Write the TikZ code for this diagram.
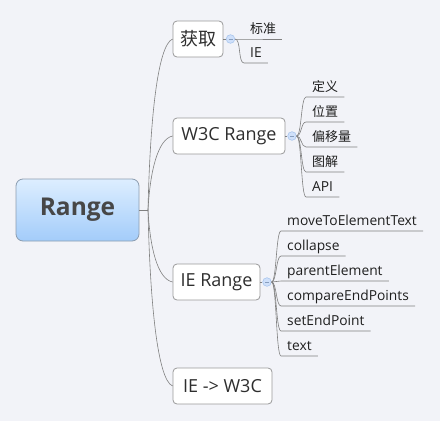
\documentclass[tikz,border=0pt]{standalone}
\usepackage{fontspec}
\setmainfont{Open Sans}
\newfontfamily\cjk{Noto Sans CJK SC}
\newcommand{\cjkleaf}{\cjk\fontsize{13}{15}\selectfont}
\definecolor{bg}{HTML}{F2F3F8}
\definecolor{rootTop}{HTML}{DDEEFF}
\definecolor{rootBot}{HTML}{A3CCFA}
\definecolor{rootLine}{HTML}{8C9DB0}
\definecolor{btnFill}{HTML}{CFE0FA}
\definecolor{btnLine}{HTML}{A9C6EE}
\definecolor{lineGray}{HTML}{808080}
\begin{document}
\begin{tikzpicture}[x=1pt,y=-1pt,
  root/.style={draw=rootLine, top color=rootTop, bottom color=rootBot, rounded corners=7pt,
    line width=0.8pt, minimum width=123pt, minimum height=62pt, inner sep=0pt,
    font=\fontsize{24.5}{28}\selectfont\bfseries, text=black!72},
  topic/.style={draw=black!40, fill=white, rounded corners=4pt, line width=0.8pt,
    minimum height=36pt, inner sep=0pt, font=\fontsize{18}{22}\selectfont, text=black!82},
  leaf/.style={anchor=south west, inner xsep=6pt, inner ysep=5pt, text depth=0pt,
    text height=10pt, font=\fontsize{13.8}{15}\selectfont, text=black!88},
  conn/.style={draw=lineGray, line width=0.6pt},
  btn/.style={circle, draw=btnLine, fill=btnFill, line width=0.6pt, minimum size=8.6pt, inner sep=0pt},
  minus/.style={draw=btnLine!80!black, line width=0.5pt}
]
\fill[bg] (0,0) rectangle (440,421);
\useasboundingbox (0,0) rectangle (440,421);

% root and topics
\node[root] (root) at (77.5,210) {Range};
\coordinate (br) at (148,210);
\node[topic, minimum width=50pt] (t1) at (198,39) {\cjk 获取};
\node[topic, minimum width=112pt] (t2) at (229,136) {W3C Range};
\node[topic, minimum width=87pt] (t3) at (216.5,282) {IE Range};
\node[topic, minimum width=99pt] (t4) at (222.5,386) {IE -> W3C};

\draw[conn] (root.east) -- (br);
\draw[conn] (br) .. controls +(2,-90) and +(-15,6) .. (t1.west);
\draw[conn] (br) .. controls +(2,-38) and +(-15,3) .. (t2.west);
\draw[conn] (br) .. controls +(2,38) and +(-15,-3) .. (t3.west);
\draw[conn] (br) .. controls +(2,93) and +(-15,-6) .. (t4.west);

% buttons
\node[btn] (b1) at (230.5,39) {};
\node[btn] (b2) at (292,136) {};
\node[btn] (b3) at (267,282) {};
\draw[conn] (t1.east) -- (b1.west);
\draw[conn] (t2.east) -- (b2.west);
\draw[conn] (t3.east) -- (b3.west);
\foreach \b in {b1,b2,b3} {\draw[minus] ([xshift=-2pt]\b.center) -- ([xshift=2pt]\b.center);}

% leaves of t1
\node[leaf] (l11) at (244,39) {\cjkleaf 标准};
\node[leaf] (l12) at (244,63) {IE};
\draw[conn] (b1.east) -- (l11.south west) -- (l11.south east);
\draw[conn] (b1.east) .. controls +(6,0) and +(-6,0) .. (l12.south west) -- (l12.south east);

% leaves of t2
\node[leaf] (l21) at (306,97) {\cjkleaf 定义};
\node[leaf] (l22) at (306,122) {\cjkleaf 位置};
\node[leaf] (l23) at (306,147) {\cjkleaf 偏移量};
\node[leaf] (l24) at (306,172) {\cjkleaf 图解};
\node[leaf] (l25) at (306,197) {API};
\foreach \l in {l21,l22,l23,l24,l25} {
  \draw[conn] (b2.east) .. controls +(5,0) and +(-5,0) .. (\l.south west) -- (\l.south east);
}

% leaves of t3
\node[leaf] (l31) at (281,231) {moveToElementText};
\node[leaf] (l32) at (281,256) {collapse};
\node[leaf] (l33) at (281,281) {parentElement};
\node[leaf] (l34) at (281,306) {compareEndPoints};
\node[leaf] (l35) at (281,331) {setEndPoint};
\node[leaf] (l36) at (281,356) {text};
\foreach \l in {l31,l32,l33,l34,l35,l36} {
  \draw[conn] (b3.east) .. controls +(5,0) and +(-5,0) .. (\l.south west) -- (\l.south east);
}
\end{tikzpicture}
\end{document}
